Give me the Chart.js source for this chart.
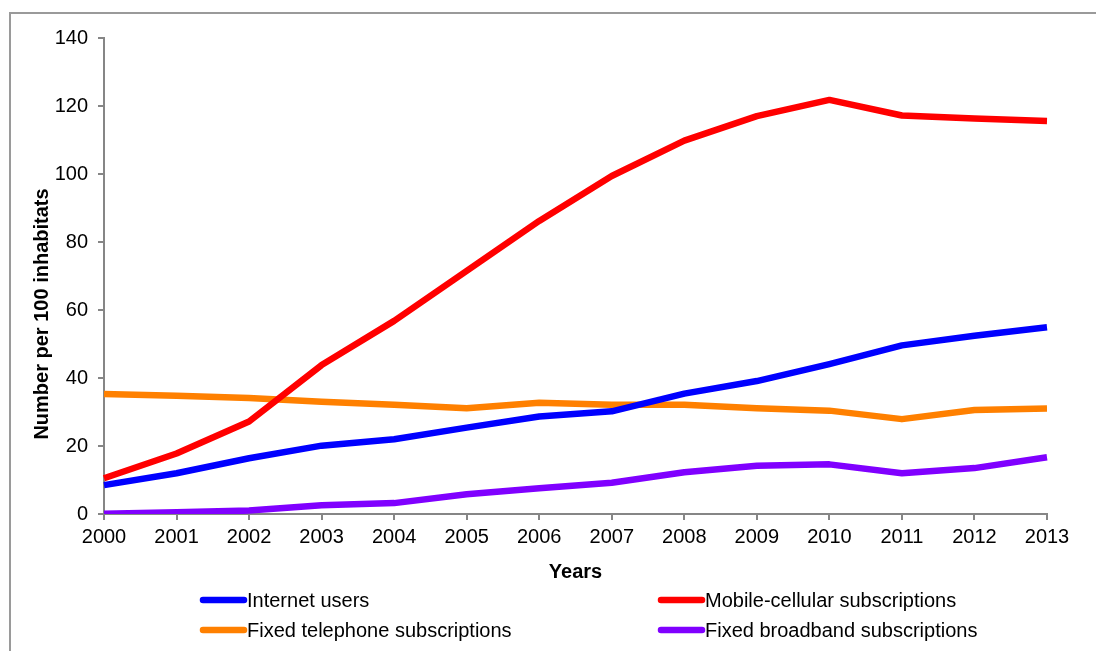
<!DOCTYPE html>
<html>
<head>
<meta charset="utf-8">
<script src="https://cdn.jsdelivr.net/npm/chart.js@4.4.0/dist/chart.umd.min.js"></script>
<style>
  html, body { margin: 0; padding: 0; background: #fff; }
  #wrap { width: 1096px; height: 651px; position: relative; }
</style>
</head>
<body>
<div id="wrap"><canvas id="chart" width="1096" height="651"></canvas></div>
<script>
// data
const years = ["2000", "2001", "2002", "2003", "2004", "2005", "2006", "2007", "2008", "2009", "2010", "2011", "2012", "2013"];
const internetUsers = [8.5, 12.0, 16.4, 20.1, 22.0, 25.4, 28.7, 30.2, 35.4, 39.1, 44.1, 49.6, 52.4, 54.9];
const mobileCellular = [10.5, 17.8, 27.2, 43.8, 56.8, 71.5, 86.2, 99.4, 109.8, 117.0, 121.8, 117.2, 116.3, 115.6];
const fixedTelephone = [35.3, 34.8, 34.1, 33.0, 32.1, 31.1, 32.7, 32.1, 32.1, 31.1, 30.4, 27.9, 30.6, 31.0];
const fixedBroadband = [0.1, 0.5, 1.0, 2.6, 3.2, 5.8, 7.6, 9.2, 12.3, 14.2, 14.6, 12.0, 13.5, 16.7];
const yTicks = [0, 20, 40, 60, 80, 100, 120, 140];

const FONT = "'Liberation Sans', Arial, sans-serif";
const AXIS_GRAY = "#868686";

function line(label, data, color) {
  return {
    label: label,
    data: data,
    borderColor: color,
    backgroundColor: color,
    borderWidth: 6.5,
    pointRadius: 0,
    borderJoinStyle: "round",
    borderCapStyle: "butt",
    tension: 0,
    fill: false
  };
}

// frame, y title and the two column legend
const decor = {
  id: "decor",
  beforeDraw(chart) {
    const ctx = chart.ctx;
    ctx.save();
    ctx.strokeStyle = "#9a9a9a";
    ctx.lineWidth = 2;
    ctx.strokeRect(10, 13, 1200, 800);
    ctx.restore();
  },
  afterDraw(chart) {
    const ctx = chart.ctx;
    ctx.save();
    // y axis title
    ctx.translate(42, 314);
    ctx.rotate(-Math.PI / 2);
    ctx.font = "bold 20px " + FONT;
    ctx.fillStyle = "#000";
    ctx.textAlign = "center";
    ctx.textBaseline = "middle";
    ctx.fillText("Number per 100 inhabitats", 0, 0);
    ctx.restore();

    // legend, 2 columns
    const cols = [200, 658];
    const rows = [600, 630];
    ctx.save();
    ctx.font = "20px " + FONT;
    ctx.textBaseline = "middle";
    ctx.textAlign = "left";
    chart.data.datasets.forEach((ds, i) => {
      const x = cols[i % 2];
      const y = rows[Math.floor(i / 2)];
      ctx.strokeStyle = ds.borderColor;
      ctx.lineWidth = 6.5;
      ctx.lineCap = "round";
      ctx.beginPath();
      ctx.moveTo(x + 3, y);
      ctx.lineTo(x + 44, y);
      ctx.stroke();
      ctx.fillStyle = "#000";
      ctx.fillText(ds.label, x + 47, y + 1);
    });
    ctx.restore();
  }
};

const ctx = document.getElementById("chart").getContext("2d");
const chart = new Chart(ctx, {
  type: "line",
  data: {
    labels: years,
    datasets: [
      line("Internet users", internetUsers, "#0000ff"),
      line("Mobile-cellular subscriptions", mobileCellular, "#ff0000"),
      line("Fixed telephone subscriptions", fixedTelephone, "#ff8000"),
      line("Fixed broadband subscriptions", fixedBroadband, "#8000ff")
    ]
  },
  options: {
    responsive: false,
    animation: false,
    layout: { padding: { left: 0, top: 38, right: 49, bottom: 61 } },
    plugins: {
      legend: { display: false },
      tooltip: { enabled: false }
    },
    scales: {
      x: {
        offset: false,
        grid: {
          drawOnChartArea: false,
          drawTicks: true,
          tickLength: 6,
          color: AXIS_GRAY,
          lineWidth: 2
        },
        border: { color: AXIS_GRAY, width: 2 },
        ticks: {
          color: "#000",
          font: { family: FONT, size: 20 },
          padding: 5,
          maxRotation: 0,
          autoSkip: false
        },
        title: {
          display: true,
          text: "Years",
          color: "#000",
          font: { family: FONT, size: 20, weight: "bold" },
          padding: { top: 0, bottom: 6 }
        },
        afterFit(scale) { scale.height = 76; }
      },
      y: {
        min: 0,
        max: 140,
        afterBuildTicks(scale) { scale.ticks = yTicks.map(v => ({ value: v })); },
        grid: {
          drawOnChartArea: false,
          drawTicks: true,
          tickLength: 6,
          color: AXIS_GRAY,
          lineWidth: 2
        },
        border: { color: AXIS_GRAY, width: 2 },
        ticks: {
          color: "#000",
          font: { family: FONT, size: 20 },
          padding: 10
        },
        afterFit(scale) { scale.width = 104; }
      }
    }
  },
  plugins: [decor]
});
</script>
</body>
</html>
